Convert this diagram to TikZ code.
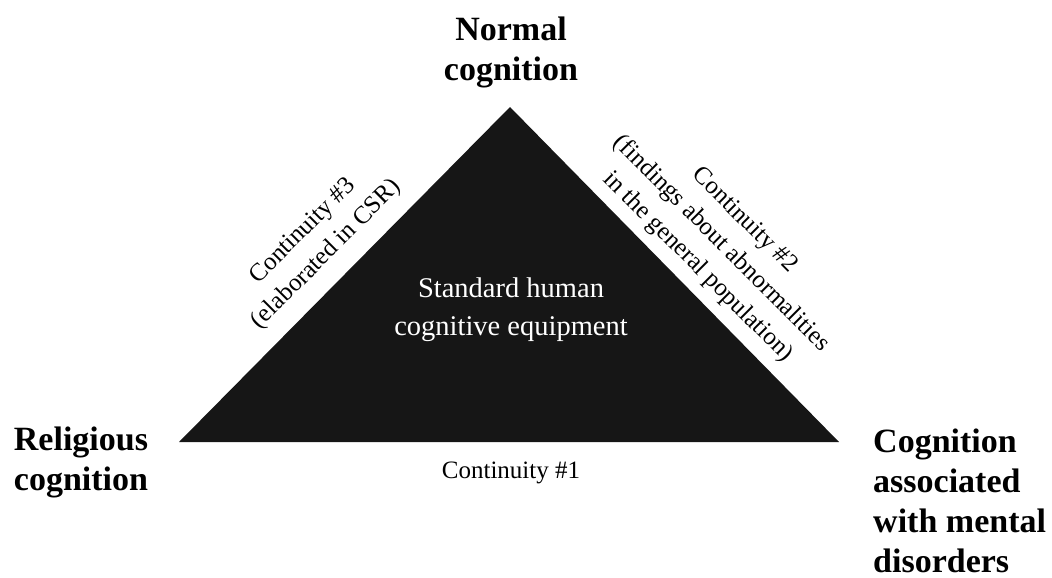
\documentclass[tikz,border=0pt]{standalone}
\usepackage{fontspec}
\setmainfont{Liberation Serif}
\definecolor{wedge}{HTML}{161616}
\begin{document}
\begin{tikzpicture}[x=1pt,y=1pt,
  corner/.style={font=\bfseries\fontsize{34}{40}\selectfont, inner sep=0pt},
  sidelabel/.style={font=\fontsize{25}{33}\selectfont, align=center, inner sep=0pt},
  inner/.style={font=\fontsize{28.5}{38}\selectfont, text=white, align=center, inner sep=0pt}]
  \useasboundingbox (0,0) rectangle (1052,-578);
  % vertices of the triangle
  \coordinate (T) at (510,-107);
  \coordinate (L) at (179,-442);
  \coordinate (R) at (839,-442);
  \fill[wedge] (L) -- (T) -- (R) -- cycle;

  % corner labels
  \node[corner, align=center] (normal) at (511,-52) {Normal\\cognition};
  \node[corner, align=center] (religious) at (81,-462) {Religious\\cognition};
  \node[corner, align=left, anchor=west] (mental) at (873,-500.5)
    {Cognition\\associated\\with mental\\disorders};

  % centre of the triangle
  \node[inner] (equip) at (511,-309.5) {Standard human\\cognitive equipment};

  % the three continuities, one per side
  \node[sidelabel, anchor=base] (c1) at (511,-478) {Continuity \#1};
  \node[sidelabel, rotate=-45] (c2) at (721,-244)
    {Continuity \#2\\(findings about abnormalities\\in the general population)};
  \node[sidelabel, rotate=45] (c3) at (315,-243)
    {Continuity \#3\\(elaborated in CSR)};
\end{tikzpicture}
\end{document}
